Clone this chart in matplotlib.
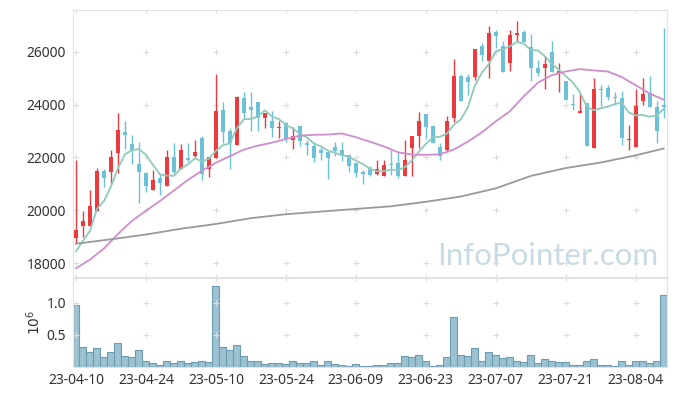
import numpy as np
import pandas as pd
import matplotlib
matplotlib.use('Agg')
import matplotlib.pyplot as plt

plt.rcParams['font.family'] = ['Noto Sans', 'DejaVu Sans']

# KRX trading days 2023-04-10 .. 2023-08-10
holidays = ['2023-05-01', '2023-05-05', '2023-05-29', '2023-06-06']
dates = pd.bdate_range('2023-04-10', '2023-08-10', freq='C', holidays=holidays)

opens = [18930, 19390, 19390, 19990, 21480, 21450, 22180, 22970, 22510, 21770,
         21430, 20780, 21210, 20920, 22010, 21580, 21950, 22060, 22730, 21550,
         21990, 23810, 23010, 22470, 24250, 23910, 24100, 23480, 23390, 23100,
         23320, 22660, 23200, 22510, 22430, 22280, 22190, 22380, 22280, 22090,
         21800, 21440, 21580, 21380, 21280, 21760, 21780, 21280, 22350, 22800,
         23660, 23180, 22380, 22270, 23490, 25100, 25050, 25040, 26240, 25650,
         26770, 26220, 25580, 26640, 26770, 26190, 25390, 25380, 26010, 25190,
         24910, 24000, 23690, 24060, 22350, 24610, 24650, 24260, 24250, 22660,
         22390, 24160, 24440, 23910, 23990]
highs = [21900, 19960, 20750, 21620, 21550, 22280, 23680, 23390, 22850, 22600,
         21450, 21540, 21390, 22280, 22535, 22510, 22535, 22660, 22820, 22020,
         25170, 24090, 23100, 24340, 24480, 24480, 24100, 23700, 23750, 23390,
         23330, 23170, 23200, 22660, 22600, 22380, 22190, 22570, 22570, 22090,
         21800, 21520, 21680, 21890, 21890, 22270, 22190, 22670, 22830, 23710,
         23660, 23180, 22540, 23580, 25730, 25180, 25180, 26120, 26340, 26980,
         26850, 26400, 26850, 27160, 26850, 26680, 25710, 25840, 26430, 25580,
         24910, 24420, 24440, 24060, 25010, 24730, 24760, 24470, 24510, 23240,
         24600, 25010, 25100, 24130, 26910]
lows = [18740, 18970, 19390, 19990, 20880, 21010, 21430, 22340, 21770, 20280,
        20690, 20780, 20590, 20920, 21325, 21580, 21830, 22030, 21130, 21260,
        21990, 22560, 21580, 22470, 23450, 23020, 23020, 23110, 22790, 22730,
        22600, 22340, 22430, 22090, 21830, 21900, 21200, 22050, 21860, 21450,
        21260, 21010, 21280, 21320, 21280, 21320, 21220, 21280, 21280, 22350,
        22700, 22540, 21910, 22190, 23330, 24130, 24380, 24950, 25650, 25010,
        26150, 25240, 25290, 26380, 26380, 24890, 25080, 24600, 25240, 24490,
        24180, 23810, 23680, 22420, 22350, 23940, 24190, 24000, 22480, 22270,
        22390, 24000, 23900, 22540, 23490]
closes = [19260, 19600, 20180, 21480, 21240, 22010, 23050, 22840, 22250, 21450,
          20920, 21130, 21040, 22010, 21450, 22280, 21920, 22190, 21390, 22000,
          23770, 22980, 22540, 24290, 23680, 23810, 23480, 23680, 23130, 23170,
          22700, 22820, 22640, 22490, 21990, 22180, 21990, 22240, 22060, 21680,
          21410, 21390, 21320, 21580, 21710, 21700, 21280, 21910, 22820, 23390,
          23150, 22540, 22040, 23390, 25100, 24130, 24850, 26110, 25870, 26700,
          26600, 25240, 26660, 26700, 26380, 25380, 25190, 25560, 25240, 25270,
          24180, 23980, 23770, 22420, 24600, 24560, 24290, 24250, 22730, 22710,
          23960, 24420, 23900, 22990, 23910]
volumes = [0.974, 0.32, 0.24, 0.29, 0.15, 0.24, 0.38, 0.165, 0.15, 0.27,
           0.088, 0.057, 0.026, 0.10, 0.057, 0.10, 0.057, 0.072, 0.10, 0.072,
           1.26, 0.32, 0.27, 0.35, 0.165, 0.10, 0.10, 0.04, 0.057, 0.057,
           0.04, 0.088, 0.057, 0.057, 0.10, 0.026, 0.10, 0.04, 0.03, 0.02,
           0.04, 0.02, 0.02, 0.036, 0.036, 0.067, 0.067, 0.165, 0.15, 0.18,
           0.088, 0.02, 0.036, 0.15, 0.78, 0.18, 0.165, 0.30, 0.10, 0.24,
           0.18, 0.134, 0.15, 0.10, 0.072, 0.18, 0.057, 0.12, 0.088, 0.072,
           0.072, 0.036, 0.036, 0.088, 0.12, 0.036, 0.036, 0.02, 0.088, 0.036,
           0.088, 0.088, 0.057, 0.088, 1.12]

# first 4 values of the 5-day average (earlier closes not shown)
ma5_head = [18440, 18840, 19220, 20050]

ma20_idx = [0, 2, 4, 6, 8, 10, 12, 14, 16, 18, 20, 22, 24, 26, 28, 30, 32,
            34, 36, 38, 40, 42, 44, 46, 48, 50, 52, 54, 56, 58, 60, 62, 64,
            66, 68, 70, 72, 74, 76, 78, 80, 82, 84]
ma20_val = [17800, 18130, 18550, 19100, 19600, 19980, 20350, 20750, 21150,
            21500, 21800, 22050, 22300, 22450, 22560, 22700, 22830, 22860,
            22870, 22910, 22770, 22600, 22420, 22200, 22110, 22100, 22120,
            22300, 22600, 22950, 23370, 23750, 24320, 24830, 25120, 25260,
            25350, 25300, 25260, 25050, 24740, 24420, 24190]

ma60_idx = [0, 5, 10, 15, 20, 25, 30, 35, 40, 45, 50, 55, 60, 65, 70, 75, 80, 84]
ma60_val = [18730, 18900, 19080, 19300, 19480, 19700, 19850, 19950, 20050,
            20150, 20320, 20520, 20830, 21300, 21600, 21810, 22080, 22340]

up_c = '#ec3a3e'
dn_c = '#6cc1d9'

x = np.arange(len(dates))
o = np.array(opens)
c = np.array(closes)
ma5 = pd.Series(closes).rolling(5).mean().values
ma5[:4] = ma5_head

fig = plt.figure(figsize=(6.77, 3.96), dpi=100)
ax = fig.add_axes([0.1078, 0.3005, 0.8774, 0.6742])
axv = fig.add_axes([0.1078, 0.0732, 0.8774, 0.2248], sharex=ax)

cols = [up_c if cc >= oo else dn_c for oo, cc in zip(o, c)]
ax.vlines(x, lows, highs, colors=cols, lw=1.0, zorder=3)
body = np.maximum(np.abs(c - o), 45)
ax.bar(x, body, bottom=np.minimum(o, c), width=0.6, color=cols, zorder=4)

ax.plot(x, ma5, color='#8ecbbd', lw=1.3, zorder=5)
ax.plot(ma20_idx, ma20_val, color='#cf8dcb', lw=1.3, zorder=5)
ax.plot(ma60_idx, ma60_val, color='#999999', lw=1.3, zorder=5)

axv.bar(x, volumes, width=1.0, color='#9cc1d1', edgecolor='#6d9db2', lw=0.8)

xt = list(range(0, len(dates), 10))
yt = [18000, 20000, 22000, 24000, 26000]
ax.set_xlim(-0.43, 84.47)
ax.set_ylim(17470, 27590)
ax.set_yticks(yt)
axv.set_ylim(0, 1.39)
axv.set_yticks([0.5, 1.0])
axv.set_yticklabels(['0.5', '1.0'])
axv.set_xticks(xt)
axv.set_xticklabels([dates[i].strftime('%y-%m-%d') for i in xt])

# "+" grid marks
for a, ys in [(ax, yt + [17470, 27590]), (axv, [0.5, 1.0, 1.39])]:
    gx, gy = np.meshgrid(xt, ys)
    a.plot(gx.ravel(), gy.ravel(), '+', color='#dcdcdc', ms=4.5, mew=0.8, zorder=1)

for a in (ax, axv):
    for s in a.spines.values():
        s.set_color('#e3e3e3')
    a.tick_params(length=0, labelsize=10, colors='#333333', pad=5)
ax.tick_params(labelbottom=False)
axv.tick_params(axis='x', pad=4)

axv.set_ylabel('$10^6$', fontsize=10, color='#333333', labelpad=2)

ax.text(0.985, 0.045, 'InfoPointer.com', transform=ax.transAxes, ha='right',
        va='baseline', fontsize=22.5, color='#c8dbe4', zorder=2,
        family='Lato')

fig.savefig('out.png', dpi=100)
